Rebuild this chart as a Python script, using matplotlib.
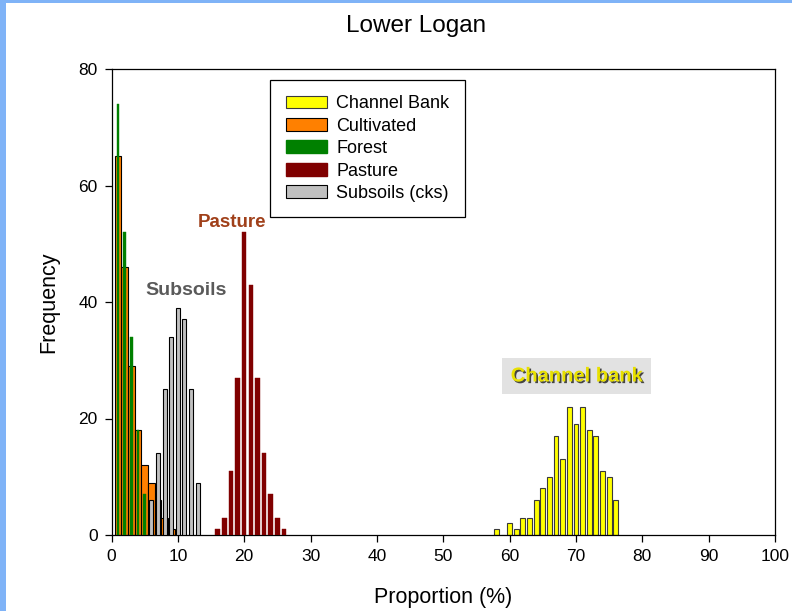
import matplotlib.pyplot as plt
import matplotlib.patches as mpatches
import matplotlib.patheffects as pe

# histogram counts (bin centres in %)
channel_bins = [58, 59, 60, 61, 62, 63, 64, 65, 66, 67, 68, 69, 70, 71, 72, 73, 74, 75, 76]
channel_counts = [1, 0, 2, 1, 3, 3, 6, 8, 10, 17, 13, 22, 19, 22, 18, 17, 11, 10, 6]

cultivated_bins = [1, 2, 3, 4, 5, 6, 7, 8, 9]
cultivated_counts = [65, 46, 29, 18, 12, 9, 6, 3, 1]

forest_bins = [1, 2, 3, 4, 5, 6, 7]
forest_counts = [74, 52, 34, 18, 7, 3, 1]

pasture_bins = [16, 17, 18, 19, 20, 21, 22, 23, 24, 25, 26]
pasture_counts = [1, 3, 11, 27, 52, 43, 27, 14, 7, 3, 1]

subsoil_bins = [6, 7, 8, 9, 10, 11, 12, 13]
subsoil_counts = [6, 14, 25, 34, 39, 37, 25, 9]

labels = ["Channel Bank", "Cultivated", "Forest", "Pasture", "Subsoils (cks)"]

plt.rcParams['font.family'] = ['Liberation Sans', 'DejaVu Sans']

fig = plt.figure(figsize=(7.92, 6.11), dpi=100)
ax = fig.add_axes([111.5 / 792, 1 - 535 / 611, (775 - 111.5) / 792, (535 - 69) / 611])

ax.bar(channel_bins, channel_counts, width=0.72, color='#ffff00', edgecolor='#3a3a3a', linewidth=0.8, zorder=2)
ax.bar(cultivated_bins, cultivated_counts, width=1.0, color='#ff8000', edgecolor='black', linewidth=0.8, zorder=2)
ax.bar(forest_bins, forest_counts, width=0.4, color='#008000', edgecolor='#008000', linewidth=0.3, zorder=3)
ax.bar(pasture_bins, pasture_counts, width=0.68, color='#800000', edgecolor='#800000', linewidth=0.3, zorder=3)
ax.bar(subsoil_bins, subsoil_counts, width=0.6, color='#c0c0c0', edgecolor='black', linewidth=0.8, zorder=4)

ax.set_xlim(0, 100)
ax.set_ylim(0, 80)
ax.set_xticks(range(0, 101, 10))
ax.set_yticks(range(0, 81, 20))
ax.tick_params(direction='out', length=5, width=0.9, labelsize=12.5, pad=5)
for s in ax.spines.values():
    s.set_linewidth(0.9)

ax.set_xlabel("Proportion (%)", fontsize=15.5, labelpad=17)
ax.set_ylabel("Frequency", fontsize=15.5, labelpad=14)
fig.text(416 / 792, 1 - 26 / 611, "Lower Logan", fontsize=17.5, ha='center', va='center')

# legend
handles = [
    mpatches.Patch(facecolor='#ffff00', edgecolor='#3a3a3a', linewidth=0.8),
    mpatches.Patch(facecolor='#ff8000', edgecolor='black', linewidth=0.8),
    mpatches.Patch(facecolor='#008000', edgecolor='#008000'),
    mpatches.Patch(facecolor='#800000', edgecolor='#800000'),
    mpatches.Patch(facecolor='#c0c0c0', edgecolor='black', linewidth=0.8),
]
leg = ax.legend(handles, labels, loc='upper left', bbox_to_anchor=(0.2395, 0.9764),
                fontsize=13, frameon=True, fancybox=False, framealpha=1,
                edgecolor='black', borderaxespad=0, borderpad=0.85,
                handlelength=2.3, handleheight=0.72, handletextpad=0.5,
                labelspacing=0.3)
leg.get_frame().set_linewidth(0.9)

# annotations
ax.text(18.1, 53.6, "Pasture", fontsize=13.5, fontweight='bold', color='#a0401a',
        ha='center', va='center', zorder=6)
ax.text(11.3, 41.9, "Subsoils", fontsize=14, fontweight='bold', color='#5a5a5a',
        ha='center', va='center', zorder=6)
ax.text(70.1, 27.3, "Channel bank", fontsize=14.5, fontweight='bold', color='#e8e000',
        ha='center', va='center', zorder=6,
        path_effects=[pe.SimplePatchShadow(offset=(1.2, -1.2), shadow_rgbFace='#333333', alpha=0.9),
                      pe.Normal()],
        bbox=dict(facecolor='#e2e2e2', edgecolor='none', pad=6))

# blue slide border
fig.patches.append(mpatches.Rectangle((0, 0), 6 / 792, 1, transform=fig.transFigure,
                                      facecolor='#7fb3f7', edgecolor='none', zorder=10))
fig.patches.append(mpatches.Rectangle((0, 1 - 3 / 611), 1, 3 / 611, transform=fig.transFigure,
                                      facecolor='#7fb3f7', edgecolor='none', zorder=10))

fig.savefig("out.png", dpi=100)
